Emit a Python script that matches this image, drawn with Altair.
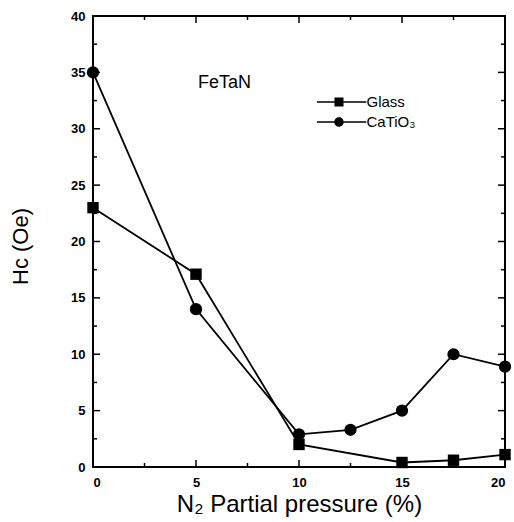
import altair as alt
import pandas as pd

glass_x = [0, 5, 10, 15, 17.5, 20]
glass_y = [23.0, 17.1, 2.0, 0.4, 0.6, 1.1]
ca_x = [0, 5, 10, 12.5, 15, 17.5, 20]
ca_y = [35.0, 14.0, 2.9, 3.3, 5.0, 10.0, 8.9]
series_names = ["Glass", "CaTiO₃"]

x_major = [0, 5, 10, 15, 20]
x_minor = [2.5, 7.5, 12.5, 17.5]
y_major = [0, 5, 10, 15, 20, 25, 30, 35, 40]
y_minor = [2.5, 7.5, 12.5, 17.5, 22.5, 27.5, 32.5, 37.5]

W, H = 412, 451

df = pd.concat([
    pd.DataFrame({"x": glass_x, "y": glass_y, "s": series_names[0]}),
    pd.DataFrame({"x": ca_x, "y": ca_y, "s": series_names[1]}),
])

xs = alt.Scale(domain=[0, 20], nice=False, zero=False)
ys = alt.Scale(domain=[0, 40], nice=False, zero=False)
FONT = "Liberation Sans"

x_axis = alt.Axis(values=x_major, format="d", domain=False, grid=False, ticks=False,
                  labelFont=FONT, labelFontWeight="bold", labelFontSize=13, labelColor="black",
                  labelPadding=9, title="N₂ Partial pressure (%)", titleFont=FONT,
                  titleFontSize=24, titleFontWeight="normal", titleColor="black", titlePadding=3)
y_axis = alt.Axis(values=y_major, format="d", domain=False, grid=False, ticks=False,
                  labelFont=FONT, labelFontWeight="bold", labelFontSize=13, labelColor="black",
                  labelPadding=8, title="Hc (Oe)", titleFont=FONT, titleFontSize=22,
                  titleFontWeight="normal", titleColor="black", titlePadding=38, titleY=230)

lines = alt.Chart(df).mark_line(strokeWidth=1.8, color="black").encode(
    x=alt.X("x:Q", scale=xs, axis=x_axis),
    y=alt.Y("y:Q", scale=ys, axis=y_axis),
    detail="s:N",
)

squares = alt.Chart(df).transform_filter(f"datum.s == '{series_names[0]}'").mark_square(
    size=130, color="black", opacity=1).encode(x=alt.X("x:Q", scale=xs), y=alt.Y("y:Q", scale=ys))
circles = alt.Chart(df).transform_filter(f"datum.s == '{series_names[1]}'").mark_circle(
    size=150, color="black", opacity=1).encode(x=alt.X("x:Q", scale=xs), y=alt.Y("y:Q", scale=ys))

bar = "M-2.1,-0.06H2.6V0.06H-2.1Z"
sq = bar + "M-0.43,-0.43H0.43V0.43H-0.43Z"
ci = bar + "M0.45,0A0.45,0.45,0,1,1,-0.45,0A0.45,0.45,0,1,1,0.45,0Z"
legend_layer = alt.Chart(df).transform_filter("false").mark_point(
    filled=True, fill="black", opacity=1).encode(
    x=alt.X("x:Q", scale=xs),
    y=alt.Y("y:Q", scale=ys),
    shape=alt.Shape("s:N", scale=alt.Scale(domain=series_names, range=[sq, ci]),
                    legend=alt.Legend(title=None, orient="none", legendX=234.5, legendY=74.5,
                                      symbolSize=441, symbolFillColor="black",
                                      labelFont=FONT, labelFontSize=15, labelColor="black",
                                      labelOffset=16, rowPadding=0, padding=0)),
)

ticks_x = pd.DataFrame({"v": x_major + x_minor, "len": [7] * len(x_major) + [4] * len(x_minor)})
ticks_y = pd.DataFrame({"v": y_major + y_minor, "len": [7] * len(y_major) + [4] * len(y_minor)})


def xt(y0, y1, ln):
    return alt.Chart(ticks_x).transform_filter(f"datum.len == {ln}").mark_rule(
        color="black", strokeWidth=1.5).encode(x=alt.X("v:Q", scale=xs), y=alt.value(y0), y2=alt.value(y1))


def yt(x0, x1, ln):
    return alt.Chart(ticks_y).transform_filter(f"datum.len == {ln}").mark_rule(
        color="black", strokeWidth=1.5).encode(y=alt.Y("v:Q", scale=ys), x=alt.value(x0), x2=alt.value(x1))


tick_layers = [
    xt(H, H - 7, 7), xt(H, H - 4, 4), xt(0, 7, 7), xt(0, 4, 4),
    yt(0, 7, 7), yt(0, 4, 4), yt(W, W - 7, 7), yt(W, W - 4, 4),
]

label = alt.Chart(pd.DataFrame({"t": ["FeTaN"]})).mark_text(
    font=FONT, fontSize=18, align="left", baseline="middle", color="black"
).encode(x=alt.datum(5.1, scale=xs), y=alt.datum(34.1, scale=ys), text="t:N")

chart = alt.layer(
    lines, squares, circles, legend_layer, *tick_layers, label
).properties(
    width=W, height=H,
    padding={"left": 93, "top": 16, "right": 9, "bottom": 55},
    autosize=alt.AutoSizeParams(type="none"),
    background="white",
).configure_view(stroke="black", strokeWidth=2)

chart.save("out.html", embed_options={"renderer": "svg", "actions": False})
